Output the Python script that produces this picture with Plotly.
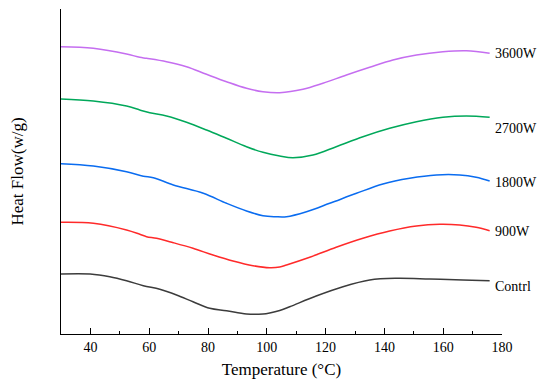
import plotly.graph_objects as go

# Temperatures (°C) and heat-flow readings (arbitrary units, offset curves)
temp_contrl = [30, 39.9, 46.6, 52.3, 58, 63.6, 69.3, 74.9, 80.6, 86.3, 93.1, 98.7, 101, 104.4, 107.8,
               116.8, 125.9, 135, 144, 155.4, 166.7, 175.8]
flow_contrl = [6.00, 6.00, 5.73, 5.33, 4.83, 4.47, 3.90, 3.23, 2.57, 2.33, 2.00, 2.00, 2.10, 2.35, 2.73,
               3.80, 4.73, 5.40, 5.57, 5.50, 5.40, 5.33]

temp_900 = [30, 41, 52.3, 56.8, 59.1, 62.5, 68.2, 74.9, 81.7, 88.5, 95.3, 101, 104.4, 106.7, 114.6,
            123.6, 132.7, 141.8, 150.9, 158.8, 165.6, 171.2, 175.8]
flow_900 = [11.17, 11.07, 10.40, 9.97, 9.73, 9.57, 9.13, 8.57, 7.90, 7.30, 6.83, 6.63, 6.70, 6.90, 7.67,
            8.67, 9.57, 10.30, 10.80, 10.97, 10.90, 10.67, 10.33]

temp_1800 = [30, 41, 52.3, 58, 61.4, 68.2, 78.4, 86.3, 93.1, 98.7, 103, 106.7, 113.5, 121.4, 130.5,
             139.5, 148.6, 157.7, 165.6, 171.2, 175.8]
flow_1800 = [17.03, 16.80, 16.23, 15.78, 15.63, 14.90, 14.07, 13.07, 12.30, 11.83, 11.73, 11.73, 12.23,
             13.07, 14.07, 15.00, 15.57, 15.90, 15.90, 15.67, 15.30]

temp_2700 = [30, 41, 52.3, 56.8, 60.2, 65.9, 72.7, 79.5, 86.3, 93.1, 98.7, 104.4, 108.9, 115.7, 123.6,
             132.7, 141.8, 150.9, 159.9, 167.9, 175.8]
flow_2700 = [23.50, 23.30, 22.80, 22.40, 22.13, 21.80, 21.17, 20.40, 19.57, 18.73, 18.17, 17.80, 17.63,
             17.90, 18.73, 19.73, 20.57, 21.23, 21.67, 21.80, 21.67]

temp_3600 = [30, 41, 52.3, 56.8, 59.1, 65.9, 72.7, 79.5, 86.3, 93.1, 98.7, 104.4, 112.3, 119.1, 127.1,
             135, 142.9, 150.9, 159.9, 167.9, 175.8]
flow_3600 = [28.73, 28.57, 28.00, 27.67, 27.57, 27.23, 26.73, 25.97, 25.23, 24.57, 24.23, 24.13, 24.47,
             25.07, 25.90, 26.67, 27.40, 27.90, 28.23, 28.33, 28.07]

labels = ["Contrl", "900W", "1800W", "2700W", "3600W"]
colors = ["#3c3c3c", "#ff2a2a", "#0a6cf0", "#00a85a", "#c56ef0"]
label_y = [4.8, 10.23, 15.2, 20.6, 28.1]

x_ticks = [40, 60, 80, 100, 120, 140, 160, 180]
x_minor = [50, 70, 90, 110, 130, 150, 170]

series = [(temp_contrl, flow_contrl), (temp_900, flow_900), (temp_1800, flow_1800),
          (temp_2700, flow_2700), (temp_3600, flow_3600)]

fig = go.Figure()
for (t, f), name, c in zip(series, labels, colors):
    fig.add_trace(go.Scatter(x=t, y=f, mode="lines", name=name,
                             line=dict(color=c, width=1.5, shape="spline", smoothing=1.0),
                             showlegend=False, hoverinfo="skip"))

for name, ly in zip(labels, label_y):
    fig.add_annotation(x=177, y=ly, text=name, showarrow=False, xanchor="left",
                       yanchor="middle", font=dict(family="Liberation Serif", size=14, color="black"))

fig.update_layout(
    width=534, height=373,
    margin=dict(l=53, r=40, t=1, b=47),
    paper_bgcolor="white", plot_bgcolor="white",
    font=dict(family="Liberation Serif", color="black"),
    xaxis=dict(range=[30, 180], tickvals=x_ticks, ticks="inside", ticklen=6, tickwidth=1.3,
               tickcolor="black", showline=True, linecolor="black", linewidth=1.3, automargin=False,
               showgrid=False, zeroline=False, tickfont=dict(size=14, family="Liberation Serif"),
               title=dict(text="Temperature (°C)", font=dict(size=17, family="Liberation Serif"), standoff=9),
               minor=dict(tickvals=x_minor, ticks="inside", ticklen=3,
                          tickwidth=1.1, tickcolor="black")),
    yaxis=dict(range=[0, 32.5], showticklabels=False, ticks="", showline=True, linecolor="black",
               linewidth=1.3, showgrid=False, zeroline=False, automargin=False,
               title=dict(text="Heat Flow(w/g)", font=dict(size=17, family="Liberation Serif"), standoff=38)),
)

fig.write_html("out.html")
